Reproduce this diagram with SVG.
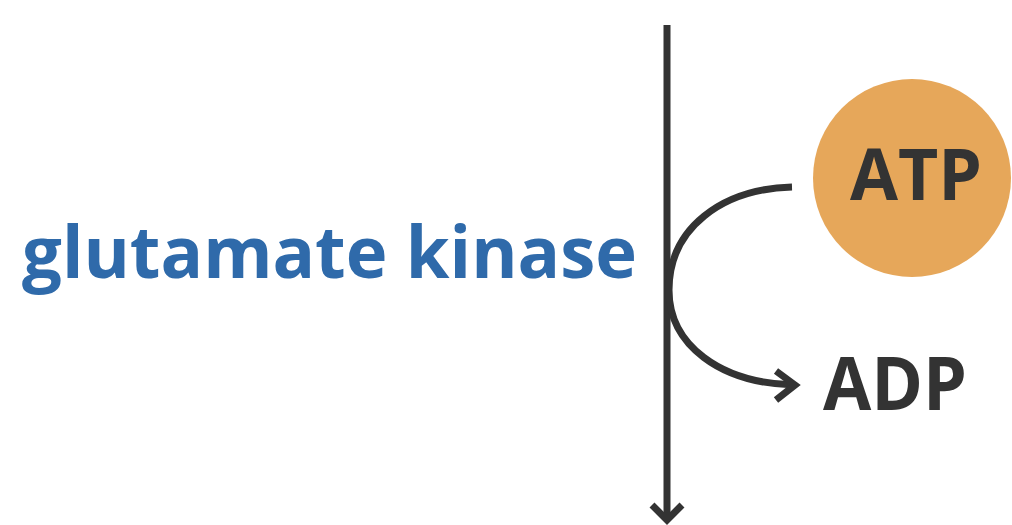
<svg xmlns="http://www.w3.org/2000/svg" width="1012" height="525" viewBox="0 0 1012 525">
<style>
.ln{fill:none;stroke:#333;stroke-width:7;stroke-linecap:butt}
.ah{fill:none;stroke:#333;stroke-width:7;stroke-linecap:butt;stroke-linejoin:miter}
.lbl{font-family:"Open Sans","Noto Sans",sans-serif;font-weight:bold;fill:#333}
</style>
<rect width="1012" height="525" fill="#fff"/>
<g id="connectors">
<path class="ln" d="M667 25 V520"/>
<path class="ah" d="M652 505 L667 520 L682 505"/>
<path class="ln" d="M792 187 C722 189 669 228 669 290 C669 345 720 383 794 385"/>
<path class="ah" d="M776 371 L795 385 L776 400"/>
</g>
<g id="enzyme">
<text x="22" y="278" font-family="Open Sans, Noto Sans, sans-serif" font-weight="bold" font-size="71" fill="#2f6aaa" textLength="615" lengthAdjust="spacingAndGlyphs">glutamate kinase</text>
</g>
<g id="atp">
<circle cx="912" cy="178" r="99" fill="#e6a75a"/>
<text class="lbl" x="850" y="200" font-size="72" textLength="132" lengthAdjust="spacingAndGlyphs">ATP</text>
</g>
<g id="adp">
<text class="lbl" x="823" y="410" font-size="74" textLength="144" lengthAdjust="spacingAndGlyphs">ADP</text>
</g>
</svg>
